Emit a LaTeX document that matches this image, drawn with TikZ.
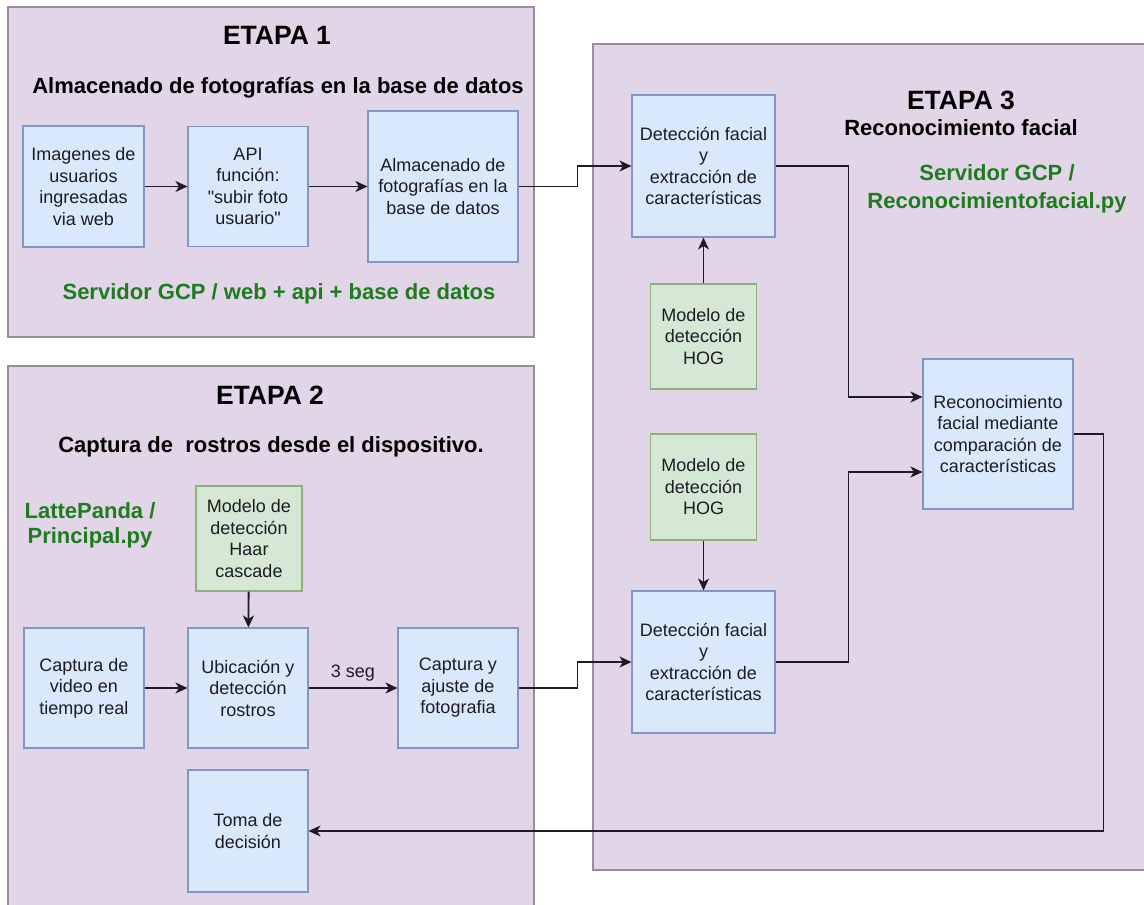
\documentclass[tikz,border=0pt]{standalone}
\usepackage{fontspec}
\setmainfont{Liberation Sans}[Ligatures=TeXOff]
\usetikzlibrary{arrows.meta,calc}

\definecolor{panelfill}{HTML}{E1D5E7}
\definecolor{panelline}{HTML}{9A8C9E}
\definecolor{bluefill}{HTML}{DAE8FC}
\definecolor{blueline}{HTML}{7E97C4}
\definecolor{greenfill}{HTML}{D5E8D4}
\definecolor{greenline}{HTML}{8FAF7E}
\definecolor{hostgreen}{HTML}{1E7B1E}
\definecolor{ink}{HTML}{1C1C24}

\newcommand\bodyfont{\fontsize{18}{21.5}\selectfont}
\newcommand\stagefont{\fontsize{26.5}{30}\selectfont\bfseries}
\newcommand\headfont{\fontsize{22}{26}\selectfont\bfseries}

\tikzset{
  panel/.style={draw=panelline, fill=panelfill, line width=1.2pt},
  procbox/.style={draw=blueline, fill=bluefill, line width=1.1pt, align=center,
    inner sep=0pt, text=ink, font=\bodyfont},
  modelbox/.style={draw=greenline, fill=greenfill, line width=1.1pt, align=center,
    inner sep=0pt, text=ink, font=\bodyfont},
  stagetitle/.style={font=\stagefont, text=black, inner sep=0pt},
  stagehead/.style={font=\headfont, text=black, inner sep=0pt},
  hostlabel/.style={font=\headfont, text=hostgreen, align=center, inner sep=0pt},
  conn/.style={draw=ink, line width=1.8pt, -{Stealth[length=12pt,width=11pt,inset=3.5pt]}},
}

\begin{document}
\begin{tikzpicture}[x=1pt, y=-1pt]
  \useasboundingbox[fill=white] (0,0) rectangle (1144,905);

  % stage containers
  \draw[panel] (8,7) rectangle (534,337);
  \draw[panel] (8,366) rectangle (534,912);
  \draw[panel] (593,44) rectangle (1152,870);

  % ---- Etapa 1
  \node[stagetitle] (t1) at (277,35) {ETAPA 1};
  \node[stagehead] (s1) at (278,88) {Almacenado de fotografías en la base de datos};
  \node[hostlabel] (h1) at (279,294) {Servidor GCP / web + api + base de datos};

  \node[procbox, minimum width=121pt, minimum height=121pt] (img) at (83.5,186.5)
    {Imagenes de\\usuarios\\ingresadas\\via web};
  \node[procbox, minimum width=120pt, minimum height=120pt] (api) at (248,186.5)
    {API\\función:\\"subir foto\\usuario"};
  \node[procbox, minimum width=150pt, minimum height=151pt] (alm) at (443,186.5)
    {Almacenado de\\fotografías en la\\base de datos};

  % ---- Etapa 2
  \node[stagetitle] (t2) at (270,395) {ETAPA 2};
  \node[stagehead] (s2) at (271,447) {Captura de~ rostros desde el dispositivo.};
  \node[hostlabel, font=\fontsize{22}{25}\selectfont\bfseries] (h2) at (90,525)
    {LattePanda /\\Principal.py};

  \node[modelbox, minimum width=106pt, minimum height=105pt] (haar) at (249,538.5)
    {Modelo de\\detección\\Haar\\cascade};
  \node[procbox, minimum width=120pt, minimum height=120pt] (cap) at (84,688)
    {Captura de\\video en\\tiempo real};
  \node[procbox, minimum width=120pt, minimum height=120pt] (ubi) at (248,688)
    {Ubicación y\\detección\\rostros};
  \node[procbox, minimum width=120pt, minimum height=120pt] (caj) at (458,688)
    {Captura y\\ajuste de\\fotografia};
  \node[procbox, minimum width=120pt, minimum height=122pt] (toma) at (248,831)
    {Toma de\\decisión};

  % ---- Etapa 3
  \node[stagetitle] (t3) at (961,100) {ETAPA 3};
  \node[stagehead] (s3) at (961,128) {Reconocimiento facial};
  \node[hostlabel, font=\fontsize{22}{28}\selectfont\bfseries] (h3) at (997,189)
    {Servidor GCP /\\Reconocimientofacial.py};

  \node[procbox, minimum width=143pt, minimum height=142pt] (det1) at (703.5,166)
    {Detección facial\\y\\extracción de\\características};
  \node[modelbox, minimum width=106pt, minimum height=105pt] (hog1) at (703.5,336.5)
    {Modelo de\\detección\\HOG};
  \node[modelbox, minimum width=106pt, minimum height=106pt] (hog2) at (703.5,487)
    {Modelo de\\detección\\HOG};
  \node[procbox, minimum width=143pt, minimum height=142pt] (det2) at (703.5,662)
    {Detección facial\\y\\extracción de\\características};
  \node[procbox, minimum width=150pt, minimum height=150pt] (rec) at (998,434)
    {Reconocimiento\\facial mediante\\comparación de\\características};

  % ---- connectors
  \draw[conn] (img) -- (api);
  \draw[conn] (api) -- (alm);
  \draw[conn] (alm.east) -- ++(59,0) |- (det1.west);

  \draw[conn] (haar) -- (ubi);
  \draw[conn] (cap) -- (ubi);
  \draw[conn] (ubi) -- node[midway, above, inner sep=6pt, font=\bodyfont, text=ink] {3 seg} (caj);
  \draw[conn] (caj.east) -- ++(59,0) |- (det2.west);

  \draw[conn] (hog1) -- (det1);
  \draw[conn] (hog2) -- (det2);
  \draw[conn] (det1.east) -- ++(73,0) |- ($(rec.west)+(0,-37)$);
  \draw[conn] (det2.east) -- ++(73,0) |- ($(rec.west)+(0,38)$);
  \draw[conn] (rec.east) -- ++(30,0) |- (toma.east);
\end{tikzpicture}
\end{document}
